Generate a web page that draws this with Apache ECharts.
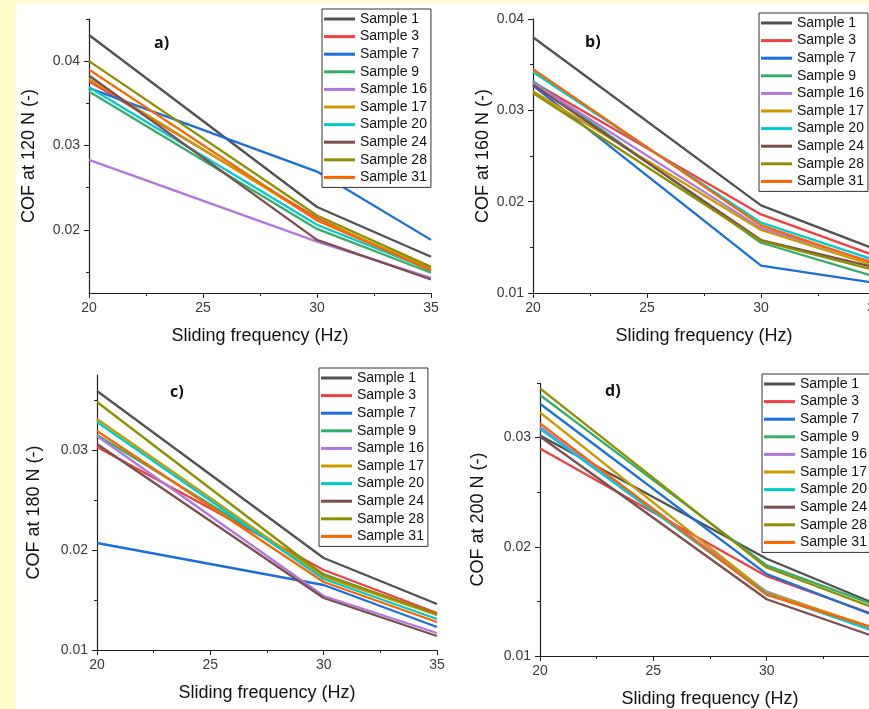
<!DOCTYPE html>
<html>
<head>
<meta charset="utf-8">
<script src="https://cdn.jsdelivr.net/npm/echarts@6/dist/echarts.min.js"></script>
<style>
html,body{margin:0;padding:0;overflow:hidden;background:#fff;}
#chart{position:absolute;left:0;top:0;width:900px;height:709px;}
</style>
</head>
<body>
<div id="chart"></div>
<script>
// ---- data ----
const samples = ['Sample 1','Sample 3','Sample 7','Sample 9','Sample 16','Sample 17','Sample 20','Sample 24','Sample 28','Sample 31'];
const colors = ['#515151','#F14040','#1A6FDF','#37AD6B','#B177DE','#CC9900','#00CBCC','#7D4E4E','#8E8E00','#FB6501'];
const frequencies = [20, 30, 35];

const cof120_at20 = [0.0431,0.0376,0.0368,0.0364,0.0283,0.0379,0.0369,0.0383,0.0400,0.0390];
const cof120_at30 = [0.0227,0.0214,0.0269,0.0201,0.0186,0.0212,0.0206,0.0188,0.0217,0.0211];
const cof120_at35 = [0.0168,0.0151,0.0188,0.0149,0.0143,0.0154,0.0152,0.0141,0.0156,0.0152];

const cof160_at20 = [0.0380,0.0331,0.0327,0.0332,0.0330,0.0321,0.0342,0.0328,0.0319,0.0345];
const cof160_at30 = [0.0196,0.0186,0.0130,0.0155,0.0171,0.0169,0.0177,0.0158,0.0157,0.0174];
const cof160_at35 = [0.0148,0.0141,0.0111,0.0118,0.0133,0.0130,0.0136,0.0128,0.0125,0.0132];

const cof180_at20 = [0.0359,0.0303,0.0207,0.0315,0.0314,0.0331,0.0328,0.0306,0.0348,0.0319];
const cof180_at30 = [0.0192,0.0180,0.0165,0.0176,0.0154,0.0173,0.0171,0.0152,0.0175,0.0168];
const cof180_at35 = [0.0146,0.0137,0.0123,0.0135,0.0117,0.0135,0.0131,0.0114,0.0136,0.0128];

const cof200_at20 = [0.0302,0.0290,0.0331,0.0339,0.0310,0.0323,0.0308,0.0301,0.0345,0.0313];
const cof200_at30 = [0.0189,0.0173,0.0175,0.0183,0.0159,0.0158,0.0157,0.0152,0.0181,0.0156];
const cof200_at35 = [0.0146,0.0136,0.0135,0.0145,0.0123,0.0124,0.0121,0.0116,0.0142,0.0124];

const yTitles = ['COF at 120 N (-)','COF at 160 N (-)','COF at 180 N (-)','COF at 200 N (-)'];
const panelLabels = ['a)','b)','c)','d)'];
const yMajorTicks = [[0.02,0.03,0.04],[0.01,0.02,0.03,0.04],[0.01,0.02,0.03],[0.01,0.02,0.03]];
const yMinorTicks = [[0.015,0.025,0.035,0.045],[0.015,0.025,0.035],[0.015,0.025,0.035],[0.015,0.025,0.035]];
const xTitle = 'Sliding frequency (Hz)';

// ---- layout ----
const panels = [
  {at: [cof120_at20,cof120_at30,cof120_at35], grid:{left:89,top:19,width:342,height:274}, yMin:0.0125, yMax:0.045, yGap:51, legend:{left:322,top:9}, label:[154,35]},
  {at: [cof160_at20,cof160_at30,cof160_at35], grid:{left:533,top:19,width:342,height:274}, yMin:0.01, yMax:0.04, yGap:41, legend:{left:759,top:13}, label:[585,34]},
  {at: [cof180_at20,cof180_at30,cof180_at35], grid:{left:97,top:375,width:340,height:275}, yMin:0.01, yMax:0.0375, yGap:54, legend:{left:319,top:368}, label:[170,384]},
  {at: [cof200_at20,cof200_at30,cof200_at35], grid:{left:540,top:383,width:340,height:275}, yMin:0.01, yMax:0.035, yGap:53, legend:{left:762,top:374}, label:[605,383]}
];

const font = '"Liberation Sans", Arial, sans-serif';
const axisColor = '#1e1e1e';
const labelColor = '#3a3a3a';

const grids = [], xAxes = [], yAxes = [], series = [], legends = [];
const graphics = [
  {type:'rect', shape:{x:0,y:0,width:900,height:4}, style:{fill:'#fefed6'}, silent:true, z:-10},
  {type:'rect', shape:{x:0,y:0,width:16,height:709}, style:{fill:'#fcfccc'}, silent:true, z:-10}
];

panels.forEach((p, i) => {
  grids.push(Object.assign({containLabel:false}, p.grid));
  xAxes.push({
    type:'value', gridIndex:i, min:20, max:35, interval:5,
    name:xTitle, nameLocation:'middle', nameGap:34,
    nameTextStyle:{fontFamily:font, fontSize:18, color:'#111'},
    axisLine:{show:true, onZero:false, lineStyle:{color:axisColor, width:1.2}},
    axisTick:{show:true, inside:false, length:5, lineStyle:{color:axisColor}},
    minorTick:{show:true, splitNumber:2, length:3, lineStyle:{color:axisColor}},
    axisLabel:{fontFamily:font, fontSize:14, color:labelColor, margin:8},
    splitLine:{show:false}
  });
  const primaryIndex = yAxes.length;
  yAxes.push({
    type:'value', gridIndex:i, min:p.yMin, max:p.yMax, position:'left', offset:0,
    name:yTitles[i], nameLocation:'middle', nameGap:p.yGap,
    nameTextStyle:{fontFamily:font, fontSize:18, color:'#111'},
    axisLine:{show:true, onZero:false, lineStyle:{color:axisColor, width:1.2}},
    axisTick:{show:true, length:5, customValues:yMajorTicks[i], lineStyle:{color:axisColor}},
    axisLabel:{fontFamily:font, fontSize:14, color:labelColor, margin:9,
      customValues:yMajorTicks[i], formatter:v => v.toFixed(2)},
    splitLine:{show:false}
  });
  yAxes.push({
    type:'value', gridIndex:i, min:p.yMin, max:p.yMax, position:'left', offset:0,
    axisLine:{show:false},
    axisTick:{show:true, length:3, customValues:yMinorTicks[i], lineStyle:{color:axisColor}},
    axisLabel:{show:false},
    splitLine:{show:false}
  });
  samples.forEach((name, k) => {
    series.push({
      type:'line', name:name, xAxisIndex:i, yAxisIndex:primaryIndex,
      data: frequencies.map((f, j) => [f, p.at[j][k]]),
      symbol:'none', color:colors[k],
      lineStyle:{width:2.3, color:colors[k]},
      animation:false, z:2
    });
  });
  legends.push({
    data:samples, orient:'vertical', left:p.legend.left, top:p.legend.top,
    icon:'rect', itemWidth:31, itemHeight:3, itemGap:3.6,
    padding:[3,4,3,2], borderColor:'#333', borderWidth:1, backgroundColor:'#fff',
    textStyle:{fontFamily:font, fontSize:14, color:'#111', lineHeight:14},
    selectedMode:false, z:5
  });
  graphics.push({type:'text', left:p.label[0], top:p.label[1],
    style:{text:panelLabels[i], font:'bold 16px "Open Sans", "Liberation Sans", sans-serif', fill:'#111'}, z:6});
});

const chart = echarts.init(document.getElementById('chart'), null, {renderer:'canvas'});
chart.setOption({
  animation:false,
  backgroundColor:'#fff',
  grid:grids, xAxis:xAxes, yAxis:yAxes, legend:legends, series:series, graphic:graphics
});
</script>
</body>
</html>
